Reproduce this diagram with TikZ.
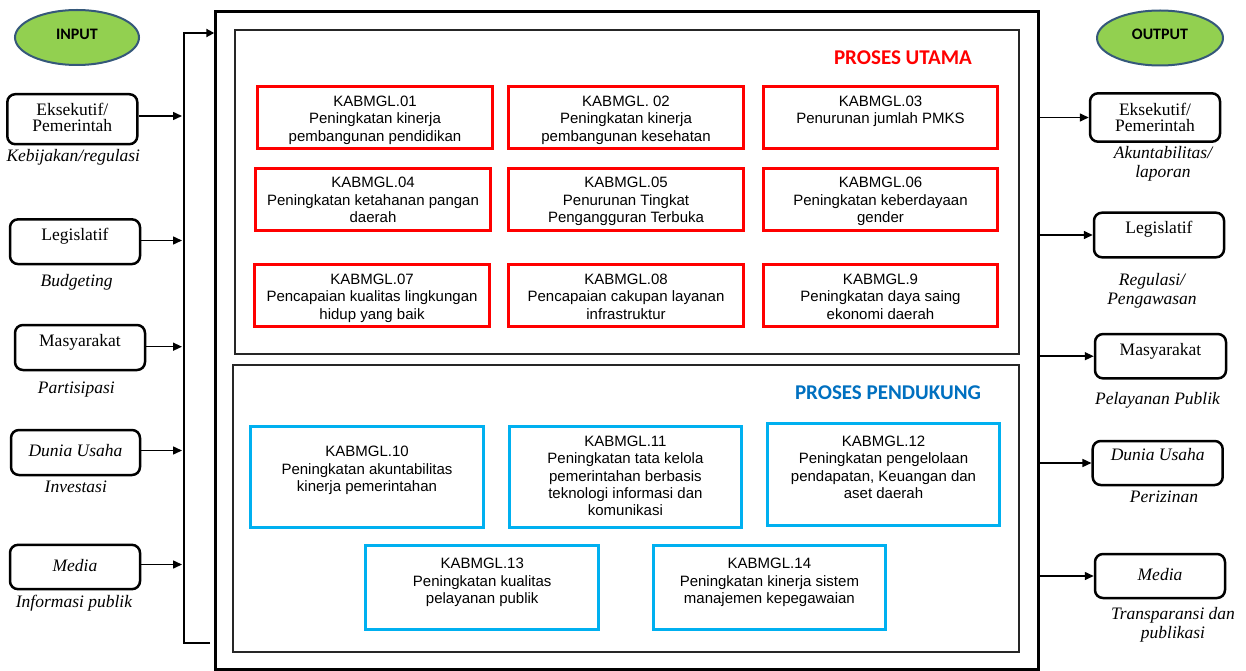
\documentclass[tikz,border=0pt]{standalone}
\usepackage{fontspec}
\setmainfont{Liberation Serif}
\newfontfamily\arialf{Liberation Sans}
\newfontfamily\calib{Carlito}
\usetikzlibrary{arrows.meta,shapes.geometric}
\definecolor{ired}{HTML}{FF0000}
\definecolor{iblue}{HTML}{00B0F0}
\definecolor{tblue}{HTML}{0070C0}
\definecolor{egreen}{HTML}{92D050}
\definecolor{eborder}{HTML}{35587A}
\definecolor{dgray}{HTML}{262626}
\begin{document}
\begin{tikzpicture}[x=1pt,y=-1pt,
  sbox/.style={draw=black, line width=2.5pt, rounded corners=8pt, inner sep=0, minimum width=130, minimum height=45},
  stext/.style={font=\fontsize{17.5}{15.5}\selectfont, inner sep=0, align=center},
  lbl/.style={font=\itshape\fontsize{17.5}{19}\selectfont, inner sep=0, align=center},
  rbox/.style={draw=ired, line width=3pt, inner sep=0, minimum width=235, minimum height=62},
  bbox/.style={draw=iblue, line width=3pt, inner sep=0, minimum width=232.5, minimum height=101},
  ktext/.style={font=\arialf\fontsize{15}{17.3}\selectfont, inner sep=0, align=center, anchor=north},
  gbox/.style={draw=dgray, line width=2pt, inner sep=0},
  oval/.style={ellipse, draw=eborder, fill=egreen, line width=2pt, inner sep=0, minimum width=124, minimum height=55,
    font=\calib\bfseries\fontsize{16}{16}\selectfont, text height=10, text depth=6.4},
  arr/.style={line width=1.5pt, -{Triangle[length=9pt,width=8pt]}},
  brk/.style={line width=2.5pt}
]
\useasboundingbox (0,0) rectangle (1246,671);

% outer frame and inner groups
\node[draw=black, line width=3pt, inner sep=0, minimum width=822.9, minimum height=658.2] (frame) at (627.25,340.4) {};
\node[gbox, minimum width=783.4, minimum height=324] (pu) at (627,192.3) {};
\node[gbox, minimum width=786, minimum height=287] (pp) at (626.3,508.75) {};

\node[font=\calib\bfseries\fontsize{21}{21}\selectfont, text=ired, inner sep=0, anchor=base] (tpu) at (903,65) {PROSES UTAMA};
\node[font=\calib\bfseries\fontsize{21}{21}\selectfont, text=tblue, inner sep=0, anchor=base] (tpp) at (888,399.3) {PROSES PENDUKUNG};

% red boxes
\node[rbox] (k01) at (375,117.5) {};
\node[rbox] (k02) at (626,117.5) {};
\node[rbox, minimum width=234.5] (k03) at (880.5,117.5) {};
\node[rbox] (k04) at (373,199.5) {};
\node[rbox] (k05) at (626,199.5) {};
\node[rbox, minimum width=234.5] (k06) at (880.5,199.5) {};
\node[rbox, minimum width=235.5] (k07) at (372,295.5) {};
\node[rbox] (k08) at (626,295.5) {};
\node[rbox, minimum width=234.5] (k09) at (880.5,295.5) {};

\node[ktext] (x01) at (375,96) {KABMGL.01\\Peningkatan kinerja\\pembangunan pendidikan};
\node[ktext] (x02) at (626,96) {KABMGL. 02\\Peningkatan kinerja\\pembangunan kesehatan};
\node[ktext] (x03) at (880.5,95.5) {KABMGL.03\\Penurunan jumlah PMKS};
\node[ktext] (x04) at (373,177.3) {KABMGL.04\\Peningkatan ketahanan pangan\\daerah};
\node[ktext] (x05) at (626,177.3) {KABMGL.05\\Penurunan Tingkat\\Pengangguran Terbuka};
\node[ktext] (x06) at (880.5,177.3) {KABMGL.06\\Peningkatan keberdayaan\\gender};
\node[ktext] (x07) at (372,274) {KABMGL.07\\Pencapaian kualitas lingkungan\\hidup yang baik};
\node[ktext] (x08) at (626,274) {KABMGL.08\\Pencapaian cakupan layanan\\infrastruktur};
\node[ktext] (x09) at (880.5,274) {KABMGL.9\\Peningkatan daya saing\\ekonomi daerah};

% blue boxes
\node[bbox] (k10) at (367,477) {};
\node[bbox] (k11) at (625.4,477) {};
\node[bbox, minimum height=102] (k12) at (883.5,474.5) {};
\node[bbox, minimum height=84] (k13) at (482.2,587.5) {};
\node[bbox, minimum height=84] (k14) at (769.4,587.5) {};

\node[ktext] (x10) at (367,446.3) {KABMGL.10\\Peningkatan akuntabilitas\\kinerja pemerintahan};
\node[ktext] (x11) at (625.4,436) {KABMGL.11\\Peningkatan tata kelola\\pemerintahan berbasis\\teknologi informasi dan\\komunikasi};
\node[ktext] (x12) at (883.5,436) {KABMGL.12\\Peningkatan pengelolaan\\pendapatan, Keuangan dan\\aset daerah};
\node[ktext] (x13) at (482.2,558.3) {KABMGL.13\\Peningkatan kualitas\\pelayanan publik};
\node[ktext] (x14) at (769.4,558.3) {KABMGL.14\\Peningkatan kinerja sistem\\manajemen kepegawaian};

% input side
\node[oval] (inp) at (77,37.5) {INPUT};
\node[sbox, minimum height=50] (in1) at (72.3,119.2) {};
\node[sbox, minimum height=44.7] (in2) at (75,241.7) {};
\node[sbox] (in3) at (80,347.5) {};
\node[sbox, minimum width=129] (in4) at (75.5,452.5) {};
\node[sbox, minimum height=44.3] (in5) at (75,567) {};

\node[stext, anchor=north] (s1) at (72.3,103) {Eksekutif/\\Pemerintah};
\node[stext, anchor=base] (s2) at (75,240.7) {Legislatif};
\node[stext, anchor=base] (s3) at (80,346.7) {Masyarakat};
\node[stext, anchor=base, font=\itshape\fontsize{17.5}{15.5}\selectfont] (s4) at (75.5,456.7) {Dunia Usaha};
\node[stext, anchor=base, font=\itshape\fontsize{17.5}{15.5}\selectfont] (s5) at (75,571.7) {Media};

\node[lbl, anchor=base] (l1) at (73.3,161) {Kebijakan/regulasi};
\node[lbl, anchor=base] (l2) at (76.7,286) {Budgeting};
\node[lbl, anchor=base] (l3) at (76.3,393) {Partisipasi};
\node[lbl, anchor=base] (l4) at (75.8,492) {Investasi};
\node[lbl, anchor=base] (l5) at (74,607) {Informasi publik};

% bracket
\coordinate (bb) at (210,643);
\coordinate (bl) at (184,643);
\coordinate (tl) at (184,33);
\draw[brk, -{Triangle[length=8pt,width=8pt]}] (bb) -- (bl) -- (tl) -- (tl -| frame.west);

\coordinate (t1) at (182,116);
\coordinate (t2) at (182,240.5);
\coordinate (t3) at (182,346.7);
\coordinate (t4) at (182,450.5);
\coordinate (t5) at (182,564.5);
\draw[arr] (in1.east |- t1) -- (t1);
\draw[arr] (in2.east |- t2) -- (t2);
\draw[arr] (in3.east |- t3) -- (t3);
\draw[arr] (in4.east |- t4) -- (t4);
\draw[arr] (in5.east |- t5) -- (t5);

% output side
\node[oval, minimum width=126] (outp) at (1160,38) {OUTPUT};
\node[sbox, minimum height=48.4] (o1) at (1155,117.5) {};
\node[sbox, minimum height=44.6] (o2) at (1159,235) {};
\node[sbox, minimum width=131, minimum height=44.3] (o3) at (1160.5,356.2) {};
\node[sbox, minimum height=44] (o4) at (1157.7,463) {};
\node[sbox, minimum height=44] (o5) at (1160,576) {};

\node[stext, anchor=north] (r1) at (1155,103) {Eksekutif/\\Pemerintah};
\node[stext, anchor=base] (r2) at (1159,233.3) {Legislatif};
\node[stext, anchor=base] (r3) at (1160.5,355) {Masyarakat};
\node[stext, anchor=base, font=\itshape\fontsize{17.5}{15.5}\selectfont] (r4) at (1157.7,460) {Dunia Usaha};
\node[stext, anchor=base, font=\itshape\fontsize{17.5}{15.5}\selectfont] (r5) at (1160,580.7) {Media};

\node[lbl, anchor=north] (m1) at (1163,146.5) {Akuntabilitas/\\laporan};
\node[lbl, anchor=north] (m2) at (1152,273) {Regulasi/\\Pengawasan};
\node[lbl, anchor=base] (m3) at (1157.5,404) {Pelayanan Publik};
\node[lbl, anchor=base] (m4) at (1164,502) {Perizinan};
\node[lbl, anchor=north] (m5) at (1173,607) {Transparansi dan\\publikasi};

\draw[arr] (frame.east |- o1.west) -- (o1.west);
\draw[arr] (frame.east |- o2.west) -- (o2.west);
\draw[arr] (frame.east |- o3.west) -- (o3.west);
\draw[arr] (frame.east |- o4.west) -- (o4.west);
\draw[arr] (frame.east |- o5.west) -- (o5.west);
\end{tikzpicture}
\end{document}
